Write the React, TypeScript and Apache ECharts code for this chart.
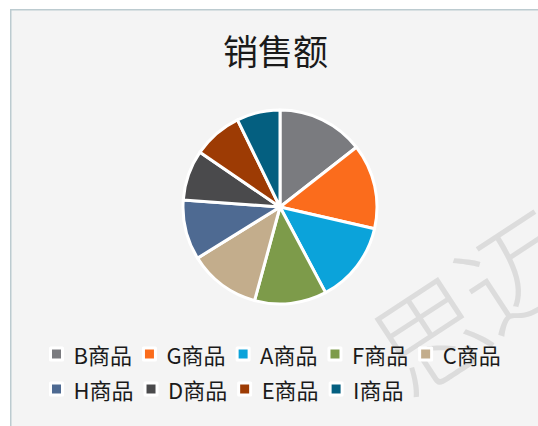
import React, { useEffect, useRef } from "react";
import * as echarts from "echarts";

const categories = ["B商品", "G商品", "A商品", "F商品", "C商品", "H商品", "D商品", "E商品", "I商品"];
const salesValues = [520, 510, 490, 432, 430, 360, 302, 296, 260];
const sliceColors = ["#7a7b7f", "#fb6c1c", "#0ba3da", "#7d9b4a", "#c3ad8c", "#4e6a92", "#4a4a4c", "#9d3b04", "#045f80"];
const legendRow1 = categories.slice(0, 5);
const legendRow2 = categories.slice(5);
const titleText = "销售额";
const watermarkChars = ["思", "迈"];

export default function App() {
  const ref = useRef<HTMLDivElement>(null);
  useEffect(() => {
    if (!ref.current) return;
    const chart = echarts.init(ref.current, undefined, { renderer: "svg" });
    const font = '"Noto Sans CJK SC", "Noto Sans", sans-serif';
    const legendBase = {
      icon: "rect",
      padding: 0,
      itemWidth: 12,
      itemHeight: 12,
      itemGap: 10,
      itemStyle: { borderColor: "#ffffff", borderWidth: 3 },
      textStyle: { fontFamily: font, fontSize: 22, color: "#1a1a1a", padding: [0, 0, 0, 6] },
    };
    const wm = (ch: string, x: number, y: number) => ({
      type: "text",
      z: -5,
      x,
      y,
      rotation: 0.58,
      style: {
        text: ch,
        fontFamily: font,
        fontWeight: 300,
        fontSize: 110,
        fill: "#dcdcdc",
        align: "center",
        verticalAlign: "middle",
      },
    });
    chart.setOption({
      animation: false,
      backgroundColor: "#ffffff",
      title: {
        text: titleText,
        left: 218,
        top: 27,
        textStyle: { fontFamily: font, fontSize: 35, fontWeight: "normal", color: "#1a1a1a" },
      },
      legend: [
        { ...legendBase, data: legendRow1, left: 49, top: 343 },
        { ...legendBase, data: legendRow2, left: 49, top: 378 },
      ],
      graphic: [
        {
          type: "rect",
          z: -10,
          shape: { x: 10.75, y: 9.75, width: 540, height: 430 },
          style: { fill: "#f4f4f4", stroke: "#bccbd0", lineWidth: 1.5 },
        },
        wm(watermarkChars[0], 428, 330),
        wm(watermarkChars[1], 512, 266),
      ],
      series: [
        {
          type: "pie",
          center: [280, 207],
          radius: 97,
          startAngle: 90,
          clockwise: true,
          label: { show: false },
          labelLine: { show: false },
          emphasis: { disabled: true },
          itemStyle: { borderColor: "#ffffff", borderWidth: 3 },
          data: categories.map((name, i) => ({
            name,
            value: salesValues[i],
            itemStyle: { color: sliceColors[i] },
          })),
        },
      ],
    });
    return () => chart.dispose();
  }, []);
  return (
    <div
      ref={ref}
      style={{ position: "absolute", left: 0, top: 0, width: 538, height: 426 }}
    />
  );
}
